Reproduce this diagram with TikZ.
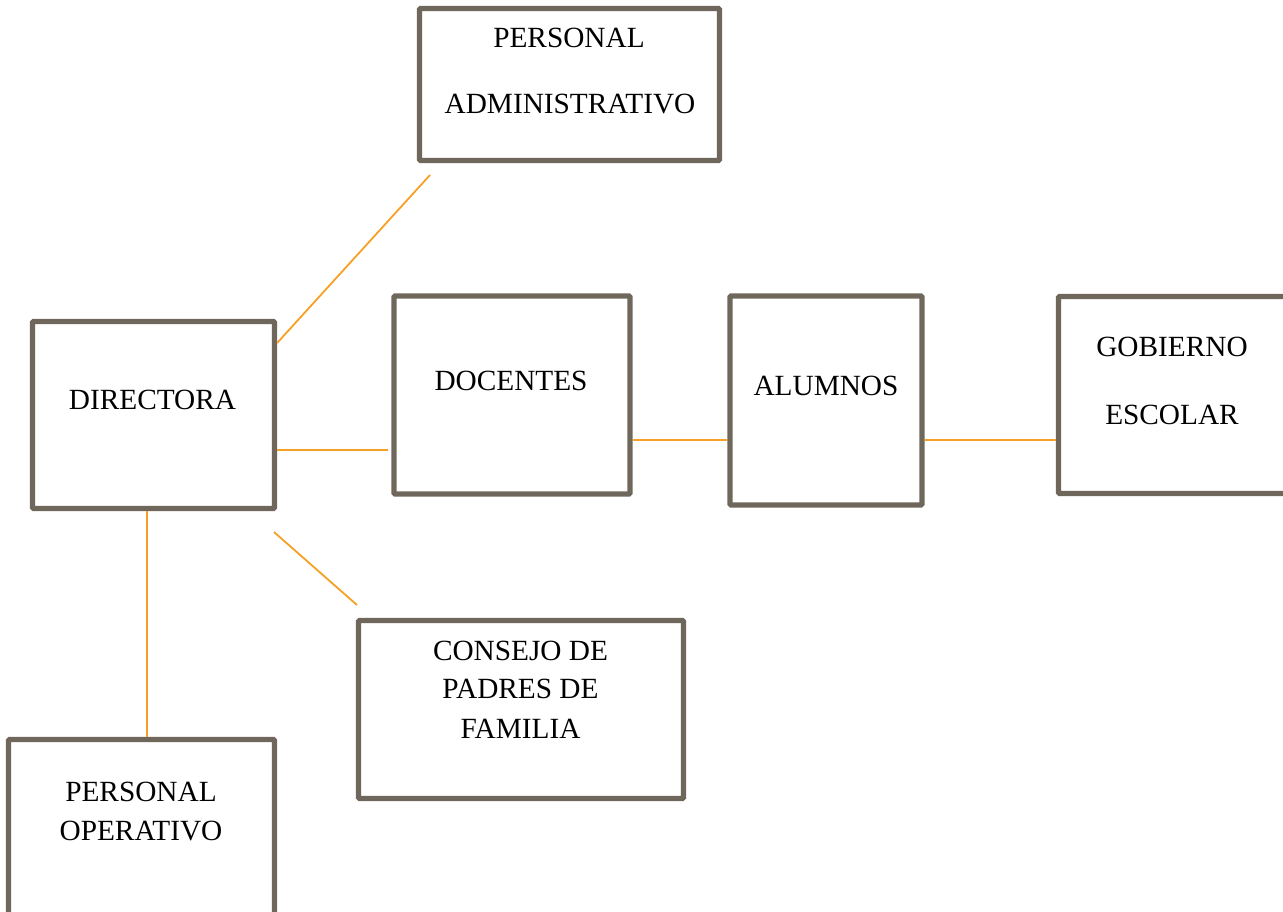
\documentclass[tikz,border=0pt]{standalone}
\usepackage{fontspec}
\setmainfont{Liberation Serif}
\definecolor{boxgray}{HTML}{6F675B}
\definecolor{linkorange}{HTML}{F6A024}
\begin{document}
\begin{tikzpicture}[x=1pt,y=-1pt,
  box/.style={draw=boxgray, line width=5.2pt, rounded corners=1pt, fill=white, inner sep=0pt},
  lbl/.style={anchor=base, inner sep=0pt, font=\fontsize{29.3}{34}\selectfont},
  link/.style={draw=linkorange, line width=1.8pt}]
\useasboundingbox (0,0) rectangle (1283,911);
\clip (0,0) rectangle (1283,911);
% boxes
\node[box, minimum width=300pt, minimum height=152pt] (pa) at (569.5,84.5) {};
\node[box, minimum width=242pt, minimum height=187pt] (dir) at (153.5,415) {};
\node[box, minimum width=236pt, minimum height=198pt] (doc) at (512,395) {};
\node[box, minimum width=192pt, minimum height=209pt] (alu) at (826,400.5) {};
\node[box, minimum width=240pt, minimum height=197pt] (gob) at (1178.5,395) {};
\node[box, minimum width=325pt, minimum height=178pt] (con) at (521,709.5) {};
\node[box, minimum width=266pt, minimum height=185pt] (po) at (141.5,832) {};
% labels
\node[lbl] (paA) at (569,47) {PERSONAL};
\node[lbl] (paB) at (570,113) {ADMINISTRATIVO};
\node[lbl] (dirT) at (152.5,409) {DIRECTORA};
\node[lbl] (docT) at (511,390) {DOCENTES};
\node[lbl] (aluT) at (826,395) {ALUMNOS};
\node[lbl] (gobA) at (1172,356) {GOBIERNO};
\node[lbl] (gobB) at (1172,424) {ESCOLAR};
\node[lbl] (conA) at (520.5,660) {CONSEJO DE};
\node[lbl] (conB) at (520.5,698) {PADRES DE};
\node[lbl] (conC) at (520.5,738) {FAMILIA};
\node[lbl] (poA) at (141,801) {PERSONAL};
\node[lbl] (poB) at (141,840) {OPERATIVO};
% free ends
\coordinate (paEnd) at (430,175);
\coordinate (docEnd) at (388,450);
\coordinate (conStart) at (274,532);
\coordinate (conEnd) at (357,605);
% connectors
\draw[link] (dir.east |- 0,343) -- (paEnd);
\draw[link] (dir.east |- 0,450) -- (docEnd);
\draw[link] (doc.east |- 0,440) -- (alu.west |- 0,440);
\draw[link] (alu.east |- 0,440) -- (gob.west |- 0,440);
\draw[link] (conStart) -- (conEnd);
\draw[link] (dir.south -| 147,0) -- (po.north -| 147,0);
\end{tikzpicture}
\end{document}
